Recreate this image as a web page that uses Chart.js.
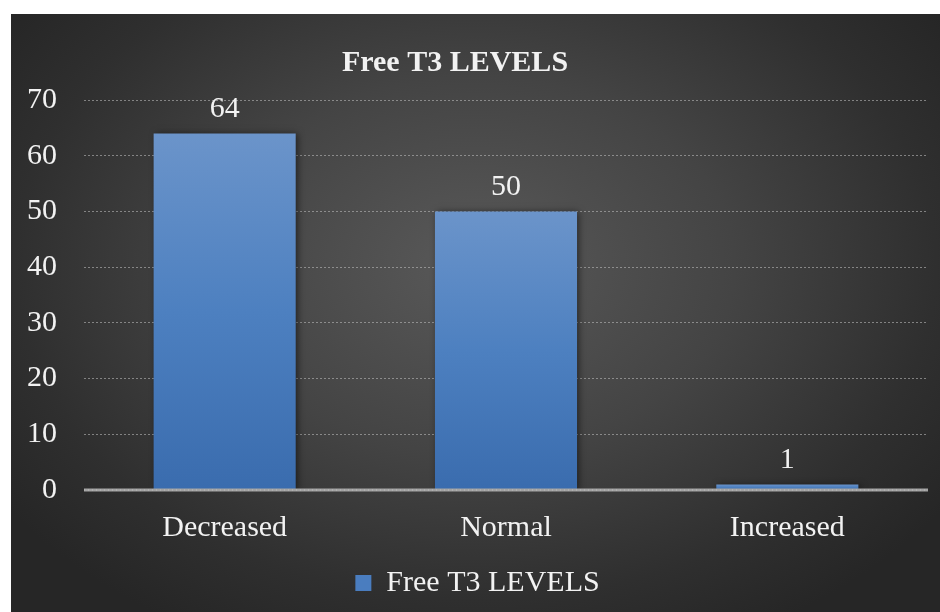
<!DOCTYPE html>
<html>
<head>
<meta charset="utf-8">
<script src="https://cdn.jsdelivr.net/npm/chart.js@4"></script>
<style>
  html, body { margin: 0; padding: 0; background: #ffffff; overflow: hidden; }
  #frame {
    position: absolute; left: 11px; top: 14px; width: 929px; height: 598px;
    overflow: hidden;
    background: radial-gradient(ellipse 62% 70% at 50% 42%, #595959 0%, #444444 45%, #2f2f2f 80%, #262626 100%);
  }
  #wrap { position: absolute; left: 0; top: 0; width: 964px; height: 598px; }
</style>
</head>
<body>
<div id="frame"><div id="wrap"><canvas id="c"></canvas></div></div>
<script>
const chartTitle = 'Free T3 LEVELS';
const seriesName = 'Free T3 LEVELS';
const categories = ['Decreased', 'Normal', 'Increased'];
const counts = [64, 50, 1];
const yTicks = [0, 10, 20, 30, 40, 50, 60, 70];

const FONT = "'Liberation Serif', 'Times New Roman', serif";
const TEXT = '#f2f2f2';

// vertical blue gradient for each bar, from its top down to the baseline
function barFill(ctx) {
  const chart = ctx.chart;
  const y = chart.scales.y;
  if (!chart.chartArea || !y || ctx.dataIndex === undefined) return '#4f81bd';
  const top = y.getPixelForValue(ctx.raw);
  const bottom = y.getPixelForValue(0);
  if (!isFinite(top) || !isFinite(bottom) || bottom - top < 1) return '#5a88c6';
  const g = chart.ctx.createLinearGradient(0, top, 0, bottom);
  g.addColorStop(0, '#6b94ca');
  g.addColorStop(0.5, '#4d80c0');
  g.addColorStop(1, '#3a6cae');
  return g;
}

// chart heading, drawn slightly left of centre
const titlePlugin = {
  id: 'heading',
  afterDraw(chart) {
    const c = chart.ctx;
    c.save();
    c.font = 'bold 30px ' + FONT;
    c.fillStyle = TEXT;
    c.textAlign = 'center';
    c.textBaseline = 'alphabetic';
    c.fillText(chartTitle, 444, 57);
    c.restore();
  }
};

// soft shadow behind the bars
const shadowPlugin = {
  id: 'barShadow',
  beforeDatasetDraw(chart) {
    const c = chart.ctx;
    c.save();
    c.shadowColor = 'rgba(0,0,0,0.55)';
    c.shadowBlur = 7;
    c.shadowOffsetX = 2;
    c.shadowOffsetY = 1;
  },
  afterDatasetDraw(chart) {
    chart.ctx.restore();
  }
};

// heavy baseline at zero plus the value labels above each bar
const overlayPlugin = {
  id: 'overlay',
  afterDatasetsDraw(chart) {
    const c = chart.ctx;
    const area = chart.chartArea;
    const y0 = chart.scales.y.getPixelForValue(0);
    c.save();
    c.strokeStyle = '#a3a3a3';
    c.lineWidth = 3;
    c.beginPath();
    c.moveTo(area.left, y0);
    c.lineTo(area.right, y0);
    c.stroke();
    c.strokeStyle = 'rgba(210,210,210,0.6)';
    c.lineWidth = 1;
    c.setLineDash([1, 3]);
    c.beginPath();
    c.moveTo(area.left, y0);
    c.lineTo(area.right, y0);
    c.stroke();
    c.setLineDash([]);

    const meta = chart.getDatasetMeta(0);
    c.font = '30px ' + FONT;
    c.fillStyle = TEXT;
    c.textAlign = 'center';
    c.textBaseline = 'alphabetic';
    meta.data.forEach((bar, i) => {
      c.fillText(String(chart.data.datasets[0].data[i]), bar.x, bar.y - 16);
    });
    c.restore();
  }
};

new Chart(document.getElementById('c'), {
  type: 'bar',
  data: {
    labels: categories,
    datasets: [{
      label: seriesName,
      data: counts,
      backgroundColor: barFill,
      borderWidth: 0,
      barPercentage: 0.505,
      categoryPercentage: 1.0
    }]
  },
  options: {
    responsive: true,
    maintainAspectRatio: false,
    animation: false,
    layout: { padding: { top: 86, left: 16, right: 47, bottom: 4 } },
    scales: {
      x: {
        grid: { display: false },
        border: { display: false },
        ticks: { color: TEXT, font: { family: FONT, size: 30 }, padding: 12 }
      },
      y: {
        min: 0,
        max: 70,
        afterBuildTicks(scale) { scale.ticks = yTicks.map(v => ({ value: v })); },
        afterFit(scale) { scale.width = 57; },
        grid: {
          color: ctx => (ctx.tick && ctx.tick.value === 0) ? 'rgba(0,0,0,0)' : 'rgba(185,185,185,0.6)',
          lineWidth: 1,
          drawTicks: false
        },
        border: { display: false, dash: [2, 2] },
        ticks: { color: TEXT, font: { family: FONT, size: 30 }, padding: 27 }
      }
    },
    plugins: {
      title: { display: false },
      tooltip: { enabled: false },
      legend: {
        display: true,
        position: 'bottom',
        labels: {
          color: TEXT,
          font: { family: FONT, size: 30 },
          boxWidth: 16,
          boxHeight: 16,
          padding: 10,
          generateLabels(chart) {
            const items = Chart.defaults.plugins.legend.labels.generateLabels(chart);
            items.forEach(it => { it.fillStyle = '#4a7dbf'; it.strokeStyle = '#4a7dbf'; it.lineWidth = 0; });
            return items;
          }
        }
      }
    }
  },
  plugins: [titlePlugin, shadowPlugin, overlayPlugin]
});
</script>
</body>
</html>
